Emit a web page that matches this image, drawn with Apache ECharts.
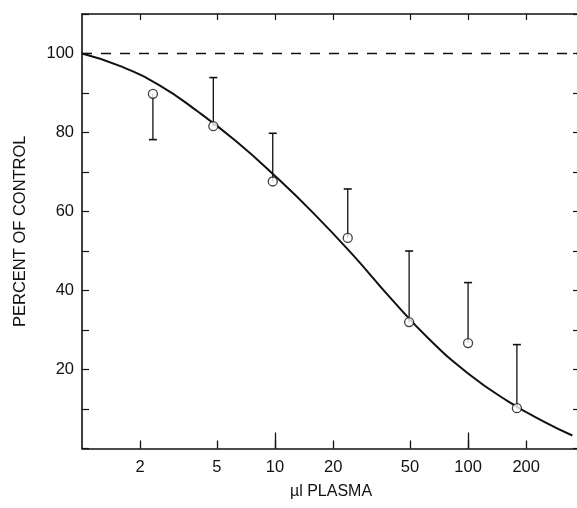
<!DOCTYPE html>
<html>
<head>
<meta charset="utf-8">
<script src="https://cdn.jsdelivr.net/npm/echarts@6/dist/echarts.min.js"></script>
<style>
html,body{margin:0;padding:0;background:#fff;overflow:hidden;}
#chart{width:577px;height:508px;}
</style>
</head>
<body>
<div id="chart"></div>
<script>
// ---- data ----
const xTickValues = [2, 5, 10, 20, 50, 100, 200];
const xLongTickValues = [10, 100];
const yLabelValues = [20, 40, 60, 80, 100];
const xMin = 1, xMax = 380;
const yMin = 0, yMax = 110;
const controlLevel = 100;

const pointX = [2.33, 4.79, 9.73, 23.8, 49.5, 100, 179];
const pointY = [89.8, 81.6, 67.6, 53.3, 32.0, 26.7, 10.2];
const errEnd = [78.2, 93.9, 79.8, 65.7, 50.0, 42.0, 26.3];

const curveX = [1, 1.58, 2.51, 3.98, 6.31, 10, 15.8, 25.1, 39.8, 63.1, 100, 158, 251, 347];
const curveY = [100, 96.8, 92.0, 85.3, 77.7, 69.0, 59.6, 49.2, 38.0, 27.6, 19.0, 12.2, 6.6, 3.3];

// ---- build ----
const lg = Math.log10;
const font = 'Liberation Sans, Arial, Helvetica, sans-serif';
const ink = '#111';

const points = pointX.map((x, i) => [lg(x), pointY[i]]);
const bars = pointX.map((x, i) => [lg(x), pointY[i], errEnd[i]]);
const curve = curveX.map((x, i) => [lg(x), curveY[i]]);

const chart = echarts.init(document.getElementById('chart'), null, {renderer: 'canvas'});
const gridBox = {left: 82, width: 498, top: 14, bottom: 59.5, containLabel: false, outerBoundsMode: 'none'};

chart.setOption({
  animation: false,
  backgroundColor: '#fff',
  grid: [Object.assign({}, gridBox), Object.assign({}, gridBox)],
  xAxis: [
    {
      type: 'value', gridIndex: 0, position: 'bottom',
      min: lg(xMin), max: lg(xMax),
      axisLine: {show: true, onZero: false, lineStyle: {color: ink, width: 1.6}},
      axisTick: {show: true, inside: true, length: 8, customValues: xTickValues.map(lg), lineStyle: {color: ink, width: 1.3}},
      axisLabel: {show: true, customValues: xTickValues.map(lg), margin: 10, color: ink, fontFamily: font, fontSize: 16.5,
        formatter: v => String(Math.round(Math.pow(10, v)))},
      splitLine: {show: false},
      name: 'µl PLASMA', nameLocation: 'middle', nameGap: 35,
      nameTextStyle: {color: ink, fontFamily: font, fontSize: 16}
    },
    {
      type: 'value', gridIndex: 0, position: 'top',
      min: lg(xMin), max: lg(xMax),
      axisLine: {show: true, onZero: false, lineStyle: {color: ink, width: 1.6}},
      axisTick: {show: true, inside: true, length: 6, customValues: xTickValues.map(lg), lineStyle: {color: ink, width: 1.2}},
      axisLabel: {show: false},
      splitLine: {show: false}
    },
    {
      type: 'value', gridIndex: 1, position: 'bottom',
      min: lg(xMin), max: lg(xMax),
      axisLine: {show: false, onZero: false},
      axisTick: {show: true, inside: true, length: 16, customValues: xLongTickValues.map(lg), lineStyle: {color: ink, width: 1.3}},
      axisLabel: {show: false},
      splitLine: {show: false}
    }
  ],
  yAxis: [
    {
      type: 'value', gridIndex: 0, position: 'left',
      min: yMin, max: yMax, interval: 10,
      axisLine: {show: true, onZero: false, lineStyle: {color: ink, width: 1.6}},
      axisTick: {show: true, inside: true, length: 7, lineStyle: {color: ink, width: 1.2}},
      axisLabel: {show: true, margin: 8, color: ink, fontFamily: font, fontSize: 16.5,
        formatter: v => (yLabelValues.indexOf(v) >= 0 ? String(v) : '')},
      splitLine: {show: false},
      name: 'PERCENT OF CONTROL', nameLocation: 'middle', nameGap: 53,
      nameTextStyle: {color: ink, fontFamily: font, fontSize: 16.5}
    },
    {
      type: 'value', gridIndex: 0, position: 'right',
      min: yMin, max: yMax, interval: 10,
      axisLine: {show: true, onZero: false, lineStyle: {color: ink, width: 1.6}},
      axisTick: {show: true, inside: true, length: 7, lineStyle: {color: ink, width: 1.2}},
      axisLabel: {show: false},
      splitLine: {show: false}
    },
    {
      type: 'value', gridIndex: 1, min: yMin, max: yMax, show: false
    }
  ],
  series: [
    {
      type: 'line', xAxisIndex: 0, yAxisIndex: 0,
      data: curve, smooth: true, symbol: 'none',
      lineStyle: {color: ink, width: 2},
      z: 3,
      markLine: {
        silent: true, symbol: 'none', label: {show: false},
        lineStyle: {color: ink, width: 1.3, type: [10, 9]},
        data: [{yAxis: controlLevel}]
      }
    },
    {
      type: 'custom', xAxisIndex: 0, yAxisIndex: 0,
      data: bars, encode: {x: 0, y: 1}, z: 4,
      renderItem: function (params, api) {
        const x = api.value(0), y = api.value(1), e = api.value(2);
        const p0 = api.coord([x, y]);
        const p1 = api.coord([x, e]);
        const cap = 4;
        return {
          type: 'group',
          children: [
            {type: 'line', shape: {x1: p0[0], y1: p0[1], x2: p1[0], y2: p1[1]}, style: {stroke: ink, lineWidth: 1.3}},
            {type: 'line', shape: {x1: p1[0] - cap, y1: p1[1], x2: p1[0] + cap, y2: p1[1]}, style: {stroke: ink, lineWidth: 1.6}}
          ]
        };
      }
    },
    {
      type: 'scatter', xAxisIndex: 0, yAxisIndex: 0,
      data: points, symbol: 'circle', symbolSize: 9, z: 5,
      itemStyle: {color: '#fff', borderColor: ink, borderWidth: 1.3}
    }
  ]
});
</script>
</body>
</html>
